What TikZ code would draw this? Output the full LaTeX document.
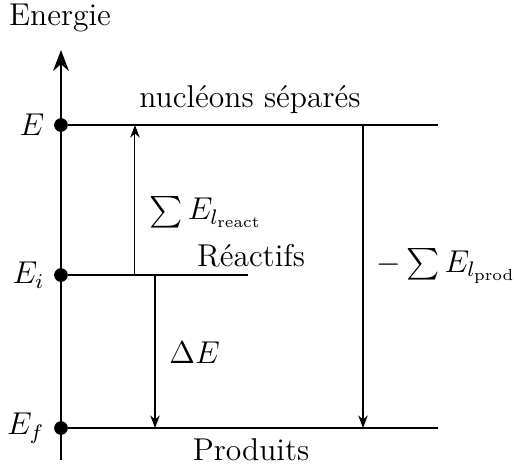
\documentclass[tikz,border=0pt]{standalone}
\usepackage{amsfonts,amsmath,amssymb}
\usetikzlibrary{arrows.meta}
\tikzset{
  every picture/.style={font=\large, line join=round, >=Stealth},
  axe/.style={line width=1.1pt},
  niveau/.style={line width=0.8pt},
  fleche/.style={line width=0.4pt,->},
  point/.style={circle,fill,inner sep=0pt,minimum size=5.2pt},
}

\begin{document}
\begin{tikzpicture}
\useasboundingbox (0,0) rectangle (6.870,6.242);
% axe des energies
\coordinate (bas) at (0.815,0.094);
\coordinate (haut) at (0.815,5.574);
\draw[axe,->] (bas) -- (haut);
\node (titre) at (0.802,6.001) {Energie};
% niveaux
\node[point] (E) at (0.815,4.571) {};
\node[point] (Ei) at (0.815,2.566) {};
\node[point] (Ef) at (0.815,0.521) {};
\coordinate (Efin) at (5.854,4.571);
\coordinate (Eifin) at (3.315,2.566);
\coordinate (Effin) at (5.854,0.521);
\draw[niveau] (E) -- (Efin);
\draw[niveau] (Ei) -- (Eifin);
\draw[niveau] (Ef) -- (Effin);
\node[left=0pt] (lE) at (E.west) {$E$};
\node[left=0pt] (lEi) at (Ei.west) {$E_i$};
\node[left=0pt] (lEf) at (Ef.west) {$E_f$};
\node (sep) at (3.341,4.905) {nucléons séparés};
\node (react) at (3.355,2.820) {Réactifs};
\node (prod) at (3.355,0.227) {Produits};
% transitions
\coordinate (a1) at (1.804,2.566);
\coordinate (b1) at (1.804,4.571);
\coordinate (a2) at (2.072,2.566);
\coordinate (b2) at (2.072,0.521);
\coordinate (a3) at (4.852,4.571);
\coordinate (b3) at (4.852,0.521);
\draw[fleche] (a1) -- (b1);
\draw[fleche] (a2) -- (b2);
\draw[fleche] (a3) -- (b3);
\node[right] (lreact) at (1.870,3.408) {$\sum E_{l_\text{react}}$};
\node[right] (ldelta) at (2.140,1.524) {$\Delta E$};
\node[right] (lprod) at (4.905,2.687) {$-\sum E_{l_\text{prod}}$};
\end{tikzpicture}
\end{document}
